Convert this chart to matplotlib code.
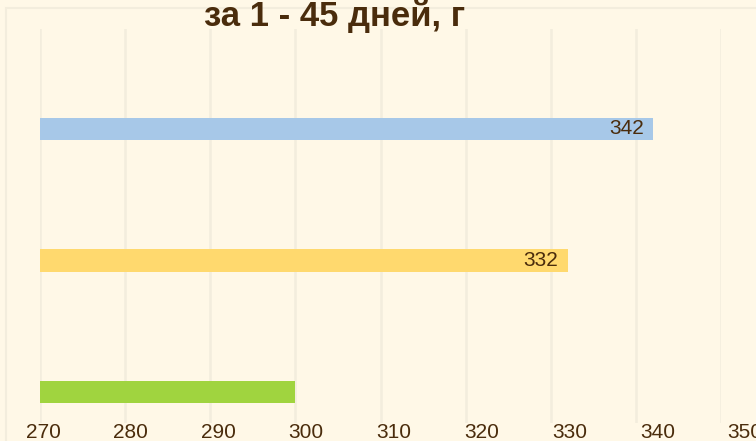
import matplotlib
matplotlib.use("Agg")
import matplotlib.pyplot as plt
import matplotlib.transforms as mtransforms
from matplotlib.patches import Rectangle

# data (top to bottom)
categories = ["a", "b", "c"]
values = [342, 332, 300]
value_labels = ["342", "332", ""]
colors = ["#A7C8E8", "#FFD96E", "#A0D43F"]
x_ticks = [270, 280, 290, 300, 310, 320, 330, 340, 350]
title = "за 1 - 45 дней, г"

BG = "#FFF8E7"
BROWN = "#4A2C0C"
GRID = "#F3EDDD"
FONT = ["Liberation Sans", "DejaVu Sans"]

plt.rcParams["font.family"] = FONT

fig = plt.figure(figsize=(7.56, 4.41), dpi=100, facecolor=BG)
ax = fig.add_axes([40 / 756, 18 / 441, 681 / 756, 394 / 441])
ax.set_facecolor(BG)

# faint outer frame of the chart area
fig.patches.append(Rectangle((6 / 756, -0.1), 1.2, (441 - 8) / 441 + 0.1,
                             transform=fig.transFigure, fill=False,
                             edgecolor=GRID, linewidth=1.5))

y = list(range(len(categories)))
ax.barh(y, [v - 270 for v in values], left=270, height=0.168,
        color=colors, edgecolor="none", zorder=3)
for yi, v, lab in zip(y, values, value_labels):
    if lab:
        ax.text(v - 1.1, yi, lab, ha="right", va="center", fontsize=15,
                color=BROWN, zorder=4)

ax.set_xlim(270, 350)
ax.set_ylim(2.236, -0.76)
ax.set_xticks(x_ticks)
ax.set_xticklabels([])
ax.tick_params(length=0)
ax.set_yticks([])
ax.grid(axis="x", color=GRID, linewidth=1.8, zorder=0)
for s in ax.spines.values():
    s.set_visible(False)

# tick labels sit on a slightly wider spacing than the grid in the original
trans = mtransforms.blended_transform_factory(ax.transData, ax.transAxes)
for t in x_ticks:
    ax.text(270.35 + (t - 270) * 1.031, -0.025, str(t), transform=trans,
            ha="center", va="center", fontsize=15, color=BROWN, clip_on=False)

fig.text(334.5 / 756, 0.941, title, ha="center", va="baseline",
         fontsize=25, fontweight="bold", color=BROWN)

fig.savefig("out.png", dpi=100, facecolor=BG)
plt.close(fig)
